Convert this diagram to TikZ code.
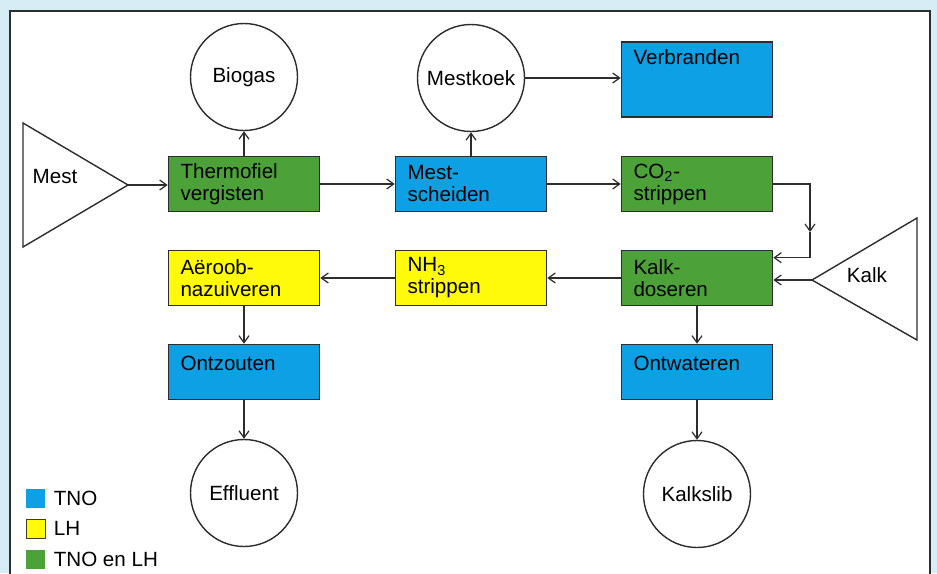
\documentclass[tikz,border=0pt]{standalone}
\usepackage{fontspec}
\setmainfont{Liberation Sans}
\usetikzlibrary{arrows.meta}

\definecolor{tnoblue}{RGB}{14,160,228}
\definecolor{lhyellow}{RGB}{255,250,10}
\definecolor{bothgreen}{RGB}{76,162,56}
\definecolor{framecyan}{RGB}{214,237,245}
\definecolor{linegray}{RGB}{45,45,45}

\begin{document}
\begin{tikzpicture}[x=0.5pt, y=-0.5pt, >={Straight Barb[length=3.5pt,width=5pt]},
    every node/.style={font=\fontsize{10.3}{11}\selectfont},
    procbox/.style={draw=linegray, line width=0.8pt, minimum width=75.5pt, minimum height=27.5pt, text width=63.5pt, inner xsep=6pt, align=left},
    outcircle/.style={draw=linegray, line width=0.7pt, circle, fill=white, minimum size=53.5pt, inner sep=0pt},
    feed/.style={draw=linegray, line width=0.7pt, fill=white},
    flow/.style={->, draw=linegray, line width=0.6pt},
    legsq/.style={minimum size=9.5pt, inner sep=0pt}]
    % frame
    \clip (0,0) rectangle (937,573);
    \fill[framecyan] (0,0) rectangle (937,573);
    \draw[draw=linegray, line width=1pt, fill=white] (10,11) rectangle (930,600);

    % inputs
    \draw[feed] (23,123) -- (128,185) -- (23,247) -- cycle;
    \coordinate (mesttip) at (128,185);
    \node (mest) at (55,177) {Mest};
    \draw[feed] (917,218) -- (812,280) -- (917,340) -- cycle;
    \coordinate (kalktip) at (812,280);
    \node (kalk) at (867,275) {Kalk};

    % process steps
    \node[procbox, fill=bothgreen] (therm) at (244,184) {Thermofiel\\vergisten};
    \node[procbox, fill=tnoblue] (scheid) at (471,184) {Mest-\\scheiden};
    \node[procbox, fill=bothgreen] (co2) at (697,184) {CO\textsubscript{2}-\\strippen};
    \node[procbox, fill=tnoblue, minimum height=37.5pt, text depth=22pt] (verbr) at (697,79.5) {Verbranden};
    \node[procbox, fill=bothgreen] (kalkdos) at (697,278) {Kalk-\\doseren};
    \node[procbox, fill=lhyellow] (nh3) at (471,278) {NH\textsubscript{3}\\strippen};
    \node[procbox, fill=lhyellow] (aeroob) at (244,278) {Aëroob-\\nazuiveren};
    \node[procbox, fill=tnoblue, text depth=9pt] (ontz) at (244,372) {Ontzouten};
    \node[procbox, fill=tnoblue, text depth=9pt] (ontw) at (697,372) {Ontwateren};

    % products
    \node[outcircle] (biogas) at (244,77) {Biogas};
    \node[outcircle] (mestkoek) at (471,78) {Mestkoek};
    \node[outcircle] (effluent) at (244,493) {Effluent};
    \node[outcircle] (kalkslib) at (697,494) {Kalkslib};

    % flows
    \draw[flow] (mesttip) -- (therm.west |- mesttip);
    \draw[flow] (therm.north) -- (biogas.south);
    \draw[flow] (therm.east) -- (scheid.west);
    \draw[flow] (scheid.north) -- (mestkoek.south);
    \draw[flow] (mestkoek.east) -- (verbr.west |- mestkoek.east);
    \draw[flow] (scheid.east) -- (co2.west);
    \coordinate (drop) at (810,232);
    \draw[flow] (co2.east) -| (drop);
    \draw[flow] (drop) |- ([yshift=-4pt]kalkdos.north east);
    \draw[flow] (kalktip) -- (kalkdos.east |- kalktip);
    \draw[flow] (kalkdos.west) -- (nh3.east);
    \draw[flow] (nh3.west) -- (aeroob.east);
    \draw[flow] (aeroob.south) -- (ontz.north);
    \draw[flow] (ontz.south) -- (effluent.north);
    \draw[flow] (kalkdos.south) -- (ontw.north);
    \draw[flow] (ontw.south) -- (kalkslib.north);

    % legend
    \node[legsq, fill=tnoblue] (sqtno) at (35.5,498) {};
    \node[anchor=west, inner xsep=4pt] (txttno) at (sqtno.east) {TNO};
    \node[legsq, fill=lhyellow, draw=linegray!80!olive, line width=0.5pt] (sqlh) at (35.5,528.5) {};
    \node[anchor=west, inner xsep=4pt] (txtlh) at (sqlh.east) {LH};
    \node[legsq, fill=bothgreen] (sqboth) at (35.5,559.5) {};
    \node[anchor=west, inner xsep=4pt] (txtboth) at (sqboth.east) {TNO en LH};
\end{tikzpicture}
\end{document}
